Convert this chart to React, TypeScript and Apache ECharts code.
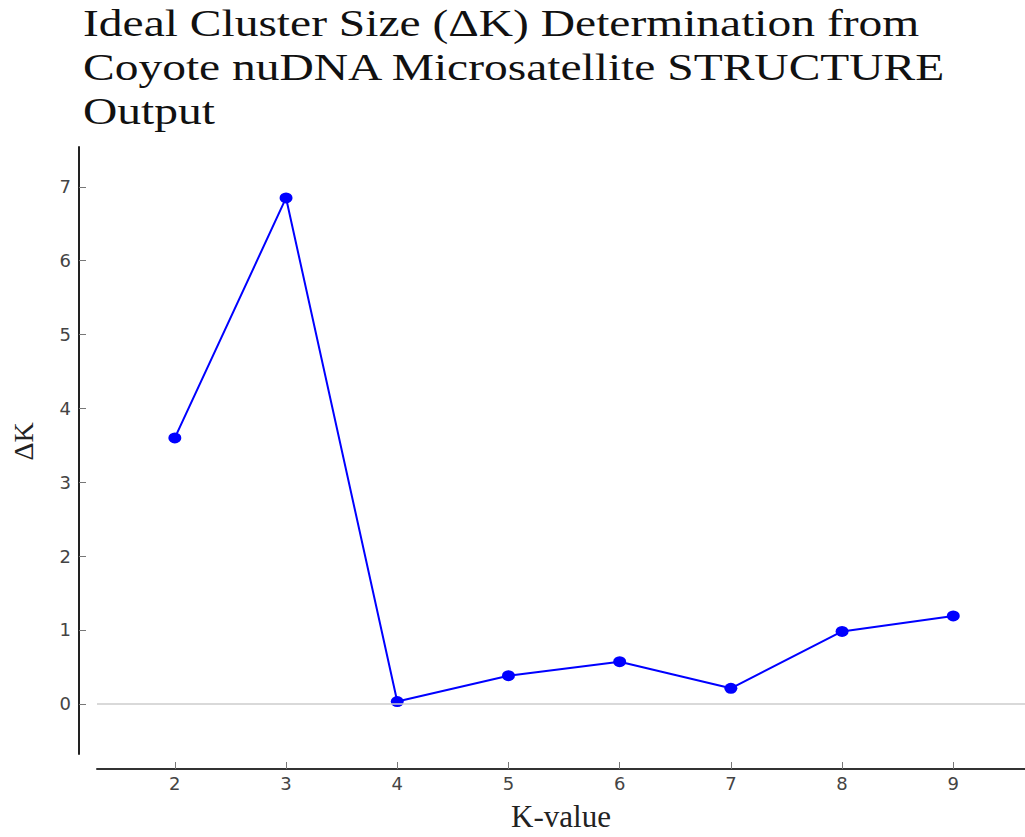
import React, { useEffect, useRef } from "react";
import * as echarts from "echarts";

// K values tested in STRUCTURE and the Evanno ΔK statistic for each
const kValues = [2, 3, 4, 5, 6, 7, 8, 9];
const deltaK = [3.6, 6.85, 0.03, 0.38, 0.57, 0.21, 0.98, 1.19];
const yTicks = [0, 1, 2, 3, 4, 5, 6, 7];
const xTicks = [2, 3, 4, 5, 6, 7, 8, 9];
const titleLines = [
  "Ideal Cluster Size (\u0394K) Determination from",
  "Coyote nuDNA Microsatellite STRUCTURE",
  "Output",
];

const SERIF = "'Liberation Serif', 'Times New Roman', serif";
const SANS = "'DejaVu Sans', sans-serif";

export default function App() {
  const ref = useRef<HTMLDivElement>(null);

  useEffect(() => {
    if (!ref.current) return;
    const chart = echarts.init(ref.current, undefined, { renderer: "svg" });

    const option = {
      animation: false,
      backgroundColor: "#ffffff",
      graphic: titleLines.map((line, i) => ({
        type: "text",
        x: 83,
        y: 4 + i * 44,
        scaleX: 1.25,
        style: {
          text: line,
          font: `38px ${SERIF}`,
          fill: "#111111",
        },
      })),
      grid: { left: 97, right: 0, top: 147, bottom: 77 },
      xAxis: {
        type: "value",
        min: 1.3,
        max: 9.645,
        offset: 15,
        name: "K-value",
        nameLocation: "middle",
        nameGap: 32,
        nameTextStyle: { fontFamily: SERIF, fontSize: 31, color: "#222" },
        axisLine: { show: true, onZero: false, lineStyle: { color: "#333", width: 2 } },
        axisTick: {
          show: true,
          inside: true,
          length: 7,
          customValues: xTicks,
          lineStyle: { color: "#777", width: 1 },
        },
        axisLabel: {
          customValues: xTicks,
          fontFamily: SANS,
          fontSize: 18,
          color: "#444",
          margin: 5,
        },
        splitLine: { show: false },
      },
      yAxis: {
        type: "value",
        min: -0.68,
        max: 7.54,
        offset: 18,
        name: "\u0394K",
        nameLocation: "middle",
        nameGap: 42,
        nameRotate: 90,
        nameTextStyle: {
          fontFamily: SERIF,
          fontSize: 28,
          color: "#222",
          padding: [0, 0, 0, 18],
        },
        axisLine: { show: true, onZero: false, lineStyle: { color: "#222", width: 2 } },
        axisTick: {
          show: true,
          inside: true,
          length: 7,
          customValues: yTicks,
          lineStyle: { color: "#777", width: 1 },
        },
        axisLabel: {
          customValues: yTicks,
          fontFamily: SANS,
          fontSize: 18,
          color: "#444",
          margin: 8,
        },
        splitLine: { show: false },
      },
      series: [
        {
          type: "line",
          data: kValues.map((k, i) => [k, deltaK[i]]),
          lineStyle: { color: "#0000ff", width: 2 },
          itemStyle: { color: "#0000ff" },
          symbol: "path://M0,5 A5,5 0 1,1 10,5 A5,5 0 1,1 0,5 Z",
          symbolSize: [13, 11],
          showSymbol: true,
          markLine: {
            silent: true,
            symbol: ["none", "none"],
            label: { show: false },
            lineStyle: { color: "#cccccc", width: 1.5, type: "solid" },
            data: [{ yAxis: 0 }],
          },
        },
      ],
    };

    chart.setOption(option);
    return () => chart.dispose();
  }, []);

  return (
    <div
      ref={ref}
      style={{ position: "absolute", left: 0, top: 0, width: 1025, height: 837 }}
    />
  );
}
